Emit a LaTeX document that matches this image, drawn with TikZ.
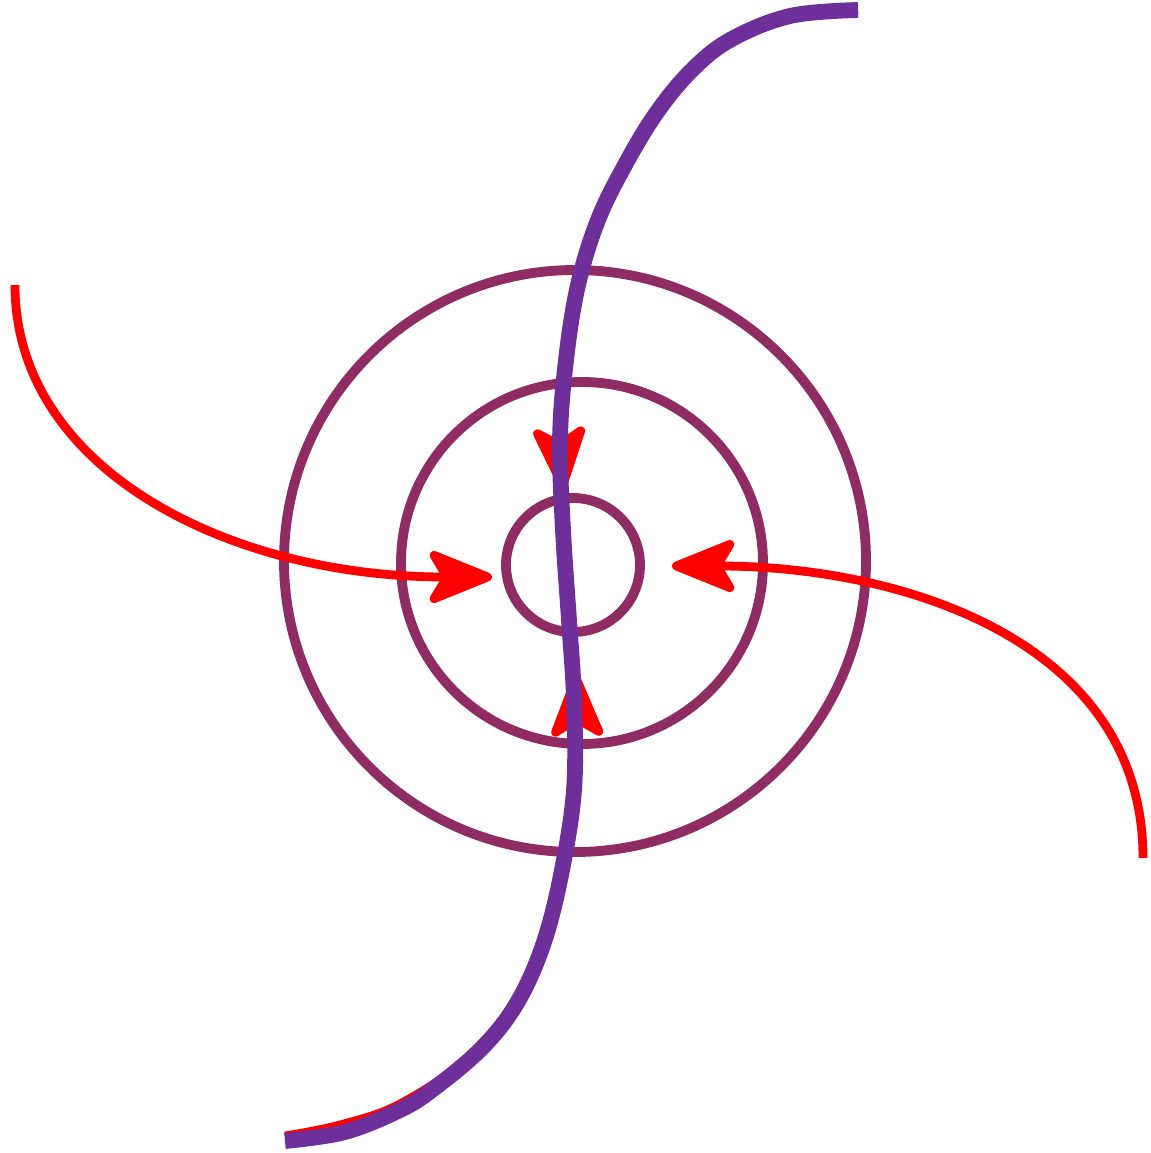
\documentclass[tikz,border=0pt]{standalone}
\usetikzlibrary{arrows.meta}
\definecolor{ringplum}{HTML}{8E2C63}
\definecolor{spineviolet}{HTML}{6E2F9B}
\definecolor{flowred}{HTML}{FF0000}
\tikzset{
  ring/.style={draw=ringplum, line width=5.6pt},
  spine/.style={draw=spineviolet, line width=9pt},
  flowline/.style={draw=flowred, line width=5pt},
  flowarrow/.style={flowline, -{Stealth[round, length=15mm, width=12mm, inset=3.5mm]}},
}
\begin{document}
\begin{tikzpicture}[x=0.02cm, y=-0.02cm]
  \useasboundingbox (0,0) rectangle (1150,1153);

  % --- rings ---
  \coordinate (ctr) at (575,563);
  \draw[ring] (575,561) circle[radius=291];
  \draw[ring] (582,563) circle[radius=181];
  \draw[ring] (573,565) circle[radius=67];

  % --- red flow lines ---
  \draw[flowarrow] (15,285) .. controls (15,470) and (230,577) .. (492,577);
  \draw[flowarrow] (1143,858) .. controls (1143,640) and (900,566) .. (672,566);
  \draw[flowarrow] plot[smooth, tension=0.6] coordinates
    {(858,10) (760,25) (690,70) (640,145) (598,225) (574,320) (562,420) (563,490)};
  \draw[flowarrow] plot[smooth, tension=0.6] coordinates
    {(285,1136) (340,1125) (400,1104) (468,1057) (525,985) (560,880) (575,790) (576,674)};

  % --- violet spine ---
  \draw[spine] plot[smooth, tension=0.6] coordinates
    {(858,10) (790,16) (730,40) (690,72) (655,115) (625,165) (598,220) (578,285)
     (566,360) (560,440) (563,530) (569,620) (574,700) (574,790) (561,875)
     (543,945) (517,1003) (482,1048) (432,1090) (400,1110) (345,1132) (285,1141)};
\end{tikzpicture}
\end{document}
